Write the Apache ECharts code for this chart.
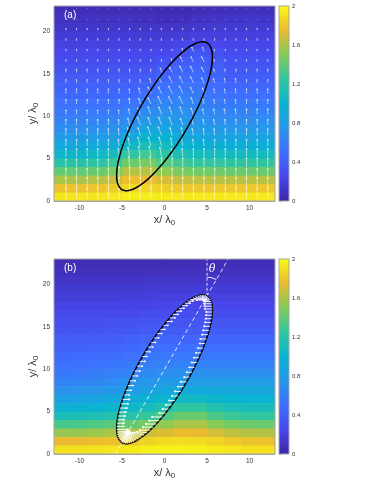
<!DOCTYPE html>
<html>
<head>
<meta charset="utf-8">
<script src="https://cdn.jsdelivr.net/npm/echarts@6/dist/echarts.min.js"></script>
<style>
  html, body { margin: 0; padding: 0; background: #fff; }
  #chart { width: 374px; height: 484px; }
</style>
</head>
<body>
<div id="chart"></div>
<script>
// ---- data (units of lambda0) ----
const xTicks = [-10, -5, 0, 5, 10];
const yTicks = [0, 5, 10, 15, 20];
const colorTicks = [0, 0.4, 0.8, 1.2, 1.6, 2];
const colorRange = [0, 2];

// heat map cell centres, rows listed top to bottom
const cellX = [-12, -10, -8, -6, -4, -2, 0, 2, 4, 6, 8, 10, 12];
const cellY = [22.5, 21.5, 20.5, 19.5, 18.5, 17.5, 16.5, 15.5, 14.5, 13.5, 12.5, 11.5,
               10.5, 9.5, 8.5, 7.5, 6.5, 5.5, 4.5, 3.5, 2.5, 1.5, 0.5];

const fieldA = [
  [.06, .06, .06, .06, .06, .05, .04, .04, .05, .07, .08, .08, .08],
  [.09, .09, .09, .09, .09, .08, .07, .07, .09, .11, .12, .12, .12],
  [.13, .13, .13, .13, .13, .12, .11, .12, .14, .15, .16, .16, .16],
  [.17, .17, .17, .17, .17, .16, .16, .18, .20, .20, .20, .20, .20],
  [.21, .21, .21, .21, .21, .21, .21, .24, .27, .25, .24, .24, .24],
  [.25, .25, .25, .25, .25, .25, .26, .31, .35, .31, .28, .28, .28],
  [.29, .29, .29, .29, .29, .29, .32, .38, .40, .36, .32, .32, .32],
  [.33, .33, .33, .33, .33, .34, .39, .44, .45, .40, .36, .36, .36],
  [.37, .37, .37, .37, .37, .39, .45, .49, .49, .44, .40, .40, .40],
  [.41, .41, .41, .41, .42, .45, .51, .54, .53, .48, .45, .45, .45],
  [.46, .46, .46, .46, .47, .52, .57, .59, .57, .53, .50, .50, .50],
  [.51, .51, .51, .51, .53, .59, .64, .65, .62, .58, .56, .56, .56],
  [.56, .56, .57, .57, .60, .67, .71, .71, .67, .64, .62, .62, .62],
  [.62, .62, .63, .64, .68, .76, .79, .77, .73, .70, .69, .69, .69],
  [.70, .70, .71, .72, .78, .87, .88, .84, .80, .78, .77, .77, .77],
  [.79, .79, .80, .82, .91, 1.00, .98, .92, .88, .87, .86, .86, .86],
  [.90, .90, .91, .95, 1.07, 1.14, 1.09, 1.02, .98, .97, .96, .96, .96],
  [1.03, 1.03, 1.05, 1.10, 1.25, 1.30, 1.21, 1.14, 1.10, 1.09, 1.08, 1.08, 1.08],
  [1.20, 1.20, 1.22, 1.28, 1.44, 1.47, 1.36, 1.30, 1.26, 1.25, 1.24, 1.24, 1.24],
  [1.40, 1.40, 1.42, 1.48, 1.62, 1.63, 1.53, 1.48, 1.45, 1.44, 1.43, 1.43, 1.43],
  [1.60, 1.60, 1.62, 1.67, 1.77, 1.76, 1.70, 1.66, 1.64, 1.63, 1.63, 1.63, 1.63],
  [1.78, 1.78, 1.79, 1.82, 1.87, 1.86, 1.83, 1.81, 1.80, 1.80, 1.80, 1.80, 1.80],
  [1.92, 1.92, 1.92, 1.93, 1.95, 1.95, 1.94, 1.93, 1.93, 1.93, 1.93, 1.93, 1.93]
];

const fieldB = [
  [.05, .05, .05, .05, .05, .05, .05, .05, .06, .06, .06, .06, .06],
  [.08, .08, .08, .08, .08, .08, .08, .09, .09, .09, .09, .09, .09],
  [.11, .11, .11, .11, .11, .12, .12, .12, .13, .13, .13, .13, .13],
  [.15, .15, .15, .15, .15, .16, .16, .16, .17, .17, .17, .17, .17],
  [.18, .18, .18, .18, .19, .19, .20, .20, .21, .21, .21, .21, .21],
  [.22, .22, .22, .22, .23, .23, .24, .25, .25, .25, .25, .25, .25],
  [.26, .26, .26, .26, .27, .28, .29, .29, .29, .29, .29, .29, .29],
  [.30, .30, .30, .31, .32, .33, .34, .34, .34, .34, .34, .34, .34],
  [.34, .34, .34, .35, .36, .38, .39, .39, .39, .39, .39, .39, .39],
  [.38, .38, .38, .39, .41, .43, .44, .44, .44, .44, .44, .44, .44],
  [.42, .42, .43, .44, .46, .48, .50, .50, .50, .50, .50, .50, .50],
  [.46, .47, .48, .49, .51, .54, .56, .56, .56, .56, .56, .56, .56],
  [.51, .52, .53, .55, .57, .60, .62, .63, .63, .63, .63, .63, .63],
  [.56, .57, .59, .61, .64, .67, .69, .71, .71, .71, .71, .71, .71],
  [.63, .64, .66, .69, .72, .75, .78, .80, .80, .80, .80, .80, .80],
  [.72, .73, .75, .78, .81, .85, .88, .91, .91, .90, .89, .89, .89],
  [.83, .84, .86, .89, .92, .96, 1.01, 1.06, 1.06, 1.02, 1.00, .99, .99],
  [.96, .97, .99, 1.02, 1.05, 1.10, 1.17, 1.24, 1.24, 1.16, 1.12, 1.10, 1.10],
  [1.12, 1.13, 1.15, 1.18, 1.21, 1.27, 1.35, 1.42, 1.42, 1.33, 1.28, 1.25, 1.25],
  [1.32, 1.33, 1.35, 1.38, 1.41, 1.47, 1.54, 1.60, 1.60, 1.52, 1.46, 1.43, 1.43],
  [1.55, 1.55, 1.57, 1.60, 1.63, 1.68, 1.72, 1.76, 1.75, 1.70, 1.65, 1.62, 1.62],
  [1.75, 1.75, 1.76, 1.78, 1.81, 1.85, 1.88, 1.89, 1.88, 1.85, 1.81, 1.78, 1.78],
  [1.90, 1.90, 1.91, 1.92, 1.94, 1.96, 1.97, 1.97, 1.96, 1.94, 1.92, 1.90, 1.90]
];

// quiver grid of panel (a); rows top to bottom
const quiverX = [-11.6, -10.35, -9.1, -7.85, -6.6, -5.35, -4.1, -2.85, -1.6, -0.35,
                 0.9, 2.15, 3.4, 4.65, 5.9, 7.15, 8.4, 9.65, 10.9, 12.15];
const quiverY = [22.6, 21.36, 20.12, 18.88, 17.64, 16.4, 15.16, 13.92, 12.68, 11.44,
                 10.2, 8.96, 7.72, 6.48, 5.24, 4.0, 2.76, 1.52, 0.28];
// arrow length, one digit per arrow (x 0.14 lambda0)
const quiverLen = [
  '11111111111111111111',
  '11111111111111111111',
  '22222222222222222222',
  '22222222222222222222',
  '22222222222344222222',
  '22222222223555222222',
  '33333333345665333333',
  '33333333456665444333',
  '44444445667765444444',
  '44444455677765444444',
  '44444456777765555555',
  '55555567777665555555',
  '66666677887766666666',
  '66666678887766666666',
  '77777789987777777777',
  '77777899988888888888',
  '88888999888888888888',
  '99999999999999999999',
  '99999999999999999999'
];
// tilt to the left of vertical, one digit per arrow (x 5 degrees)
const quiverTilt = [
  '00000000000000000000',
  '00000000111100000000',
  '00000000111100000000',
  '00000000112210000000',
  '00000000011244200000',
  '00000000113555310000',
  '00000000135555310000',
  '00000001355555321000',
  '00000013555553221000',
  '00000013555543221000',
  '00000124444443221000',
  '00000134444432210000',
  '00000133443221100000',
  '00000123332211000000',
  '00000122221100000000',
  '00000111100000000000',
  '00000000000000000000',
  '00000000000000000000',
  '00000000000000000000'
];

// ellipse (both panels)
const ellipseCenter = [0, 10];
const ellipseAxes = [10, 3];       // semi-major, semi-minor
const ellipseTiltDeg = 30;         // major axis angle from vertical
// panel (b): rim arrows
const rimCount = 96;
const rimLen = [1.0, 0.8, 0.7, 0.8, 1.3, 2.0, 1.4, 0.9, 0.7, 0.6, 0.7, 0.9]; // per 30deg sector, from top tip clockwise
const rimFocus = [-8.4, 9.3];      // where the rim arrows converge, along the major axis
const arcRadius = 2.2;
const thetaLabelAt = [5.6, 21.85];

const parula = ['#3e26a8', '#4747eb', '#3e6fff', '#2796eb', '#08b4d0',
                '#31c69f', '#81cc59', '#eaba30', '#f9fb15'];

const FONT = '"Liberation Sans", Arial, Helvetica, sans-serif';
const AXIS_GRAY = '#a6a6a6';
const TEXT = '#333';

// ---- helpers ----
const th = ellipseTiltDeg * Math.PI / 180;
const e1 = [Math.sin(th), Math.cos(th)];
const e2 = [Math.cos(th), -Math.sin(th)];

function ellipsePoint(phi) {
  const u = ellipseAxes[0] * Math.cos(phi), v = ellipseAxes[1] * Math.sin(phi);
  return [ellipseCenter[0] + u * e1[0] + v * e2[0], ellipseCenter[1] + u * e1[1] + v * e2[1]];
}

const ellipseData = [];
for (let i = 0; i <= 180; i++) ellipseData.push(ellipsePoint(i / 180 * 2 * Math.PI));

function heatData(field) {
  const out = [];
  field.forEach((row, i) => row.forEach((v, j) => out.push([cellX[j], cellY[i], v])));
  return out;
}

const quiverData = [];
quiverY.forEach((y, i) => quiverX.forEach((x, j) => {
  quiverData.push([x, y, +quiverLen[i][j] * 0.14, +quiverTilt[i][j] * 5]);
}));

const rimData = [];
for (let k = 0; k < rimCount; k++) {
  const phi = k / rimCount * 2 * Math.PI;
  const p = ellipsePoint(phi);
  let t = (p[1] - ellipseCenter[1]) / e1[1];
  t = Math.max(rimFocus[0], Math.min(rimFocus[1], t));
  const target = [ellipseCenter[0] + t * e1[0], ellipseCenter[1] + t * e1[1]];
  const dx = target[0] - p[0], dy = target[1] - p[1];
  const d = Math.hypot(dx, dy) || 1;
  const L = Math.min(d, rimLen[Math.floor(phi / (2 * Math.PI) * rimLen.length) % rimLen.length]);
  rimData.push([p[0], p[1], p[0] + dx / d * L, p[1] + dy / d * L]);
}

const axisLineData = [0, 23].map(y => [ellipseCenter[0] + (y - ellipseCenter[1]) * Math.tan(th), y]);
const tipTop = ellipsePoint(0);
const verticalData = [tipTop, [tipTop[0], 23]];

function arrowShape(tail, tip, color, headMax, width) {
  const dx = tip[0] - tail[0], dy = tip[1] - tail[1];
  const L = Math.hypot(dx, dy);
  if (L < 1.6) {
    return { type: 'circle', shape: { cx: tail[0], cy: tail[1] - L / 2, r: 0.45 }, style: { fill: color } };
  }
  const bx = -dx / L, by = -dy / L;
  const h = Math.min(headMax, Math.max(0.6, L * 0.28));
  const ca = Math.cos(0.4), sa = Math.sin(0.4);
  const l = [tip[0] + h * (bx * ca - by * sa), tip[1] + h * (bx * sa + by * ca)];
  const r = [tip[0] + h * (bx * ca + by * sa), tip[1] + h * (-bx * sa + by * ca)];
  return {
    type: 'group',
    children: [
      { type: 'line', shape: { x1: tail[0], y1: tail[1], x2: tip[0], y2: tip[1] },
        style: { stroke: color, lineWidth: width } },
      { type: 'polyline', shape: { points: [l, tip, r] },
        style: { stroke: color, lineWidth: width, fill: null } }
    ]
  };
}

const cellW = cellX[1] - cellX[0];
const cellH = cellY[0] - cellY[1];

function renderCell(params, api) {
  const x = api.value(0), y = api.value(1);
  const p0 = api.coord([x - cellW / 2, y + cellH / 2]);
  const p1 = api.coord([x + cellW / 2, y - cellH / 2]);
  return {
    type: 'rect',
    shape: { x: p0[0], y: p0[1], width: p1[0] - p0[0] + 0.6, height: p1[1] - p0[1] + 0.6 },
    style: { fill: api.visual('color') }
  };
}

function renderQuiver(params, api) {
  const x = api.value(0), y = api.value(1), len = api.value(2);
  const a = api.value(3) * Math.PI / 180;
  const tail = api.coord([x, y]);
  const tip = api.coord([x - len * Math.sin(a), y + len * Math.cos(a)]);
  return arrowShape(tail, tip, 'rgba(255,255,255,0.62)', 1.6, 0.9);
}

function renderRim(params, api) {
  const tail = api.coord([api.value(0), api.value(1)]);
  const tip = api.coord([api.value(2), api.value(3)]);
  return arrowShape(tail, tip, 'rgba(255,255,255,0.92)', 2, 1);
}

function renderTheta(params, api) {
  const c = api.coord([api.value(0), api.value(1)]);
  const r = api.coord([api.value(0) + arcRadius, api.value(1)])[0] - c[0];
  const lbl = api.coord(thetaLabelAt);
  return {
    type: 'group',
    children: [
      { type: 'arc', shape: { cx: c[0], cy: c[1], r: r, startAngle: -Math.PI / 2,
          endAngle: -Math.PI / 2 + th, clockwise: true },
        style: { stroke: 'rgba(255,255,255,0.9)', lineWidth: 1, fill: null } },
      { type: 'text', x: lbl[0], y: lbl[1],
        style: { text: 'θ', fill: '#fff', font: 'italic 11px "DejaVu Serif", serif',
                 align: 'center', verticalAlign: 'middle' } }
    ]
  };
}

function renderColorbar(params, api) {
  const p0 = api.coord([0, colorRange[1]]);
  const p1 = api.coord([1, colorRange[0]]);
  const stops = parula.map((c, i) => ({ offset: i / (parula.length - 1), color: c }));
  return {
    type: 'rect',
    shape: { x: p0[0], y: p0[1], width: p1[0] - p0[0], height: p1[1] - p0[1] },
    style: { fill: new echarts.graphic.LinearGradient(0, 1, 0, 0, stops) }
  };
}

const nameRich = {
  m: { fontSize: 11, fontFamily: FONT, color: TEXT },
  s: { fontSize: 8, fontFamily: FONT, color: TEXT, padding: [7, 0, 0, 0] }
};

function mainX(gridIndex) {
  return {
    gridIndex, type: 'value', min: -13, max: 13,
    axisLine: { show: true, lineStyle: { color: AXIS_GRAY } },
    axisTick: { show: true, inside: true, length: 2, customValues: xTicks, lineStyle: { color: AXIS_GRAY } },
    axisLabel: { customValues: xTicks, fontSize: 6.5, color: TEXT, margin: 4, fontFamily: FONT },
    splitLine: { show: false },
    name: '{m|x/ λ}{s|0}', nameLocation: 'middle', nameGap: 11, nameMoveOverlap: false,
    nameTextStyle: { rich: nameRich }
  };
}
function mainY(gridIndex) {
  return {
    gridIndex, type: 'value', min: 0, max: 23,
    axisLine: { show: true, lineStyle: { color: AXIS_GRAY } },
    axisTick: { show: true, inside: true, length: 2, customValues: yTicks, lineStyle: { color: AXIS_GRAY } },
    axisLabel: { customValues: yTicks, fontSize: 6.5, color: TEXT, margin: 4, fontFamily: FONT },
    splitLine: { show: false },
    name: '{m|y/ λ}{s|0}', nameLocation: 'middle', nameGap: 14, nameMoveOverlap: false,
    nameTextStyle: { rich: nameRich, padding: [0, 20, 0, 0] }
  };
}
function barX(gridIndex) {
  return { gridIndex, type: 'value', min: 0, max: 1, show: false };
}
function barY(gridIndex) {
  return {
    gridIndex, type: 'value', min: colorRange[0], max: colorRange[1], position: 'right',
    axisLine: { show: true, lineStyle: { color: AXIS_GRAY } },
    axisTick: { show: true, length: 2, customValues: colorTicks, lineStyle: { color: AXIS_GRAY } },
    axisLabel: { customValues: colorTicks, fontSize: 6, color: TEXT, margin: 3, fontFamily: FONT },
    splitLine: { show: false }
  };
}

const gridStyle = { show: true, z: 10, borderColor: AXIS_GRAY, borderWidth: 1, backgroundColor: 'transparent' };

const option = {
  animation: false,
  backgroundColor: '#fff',
  grid: [
    Object.assign({ left: 54, top: 6, width: 221, height: 195 }, gridStyle),
    Object.assign({ left: 279, top: 6, width: 10, height: 195 }, gridStyle),
    Object.assign({ left: 54, top: 259, width: 221, height: 195 }, gridStyle),
    Object.assign({ left: 279, top: 259, width: 10, height: 195 }, gridStyle)
  ],
  xAxis: [mainX(0), barX(1), mainX(2), barX(3)],
  yAxis: [mainY(0), barY(1), mainY(2), barY(3)],
  visualMap: {
    type: 'continuous', show: false, min: colorRange[0], max: colorRange[1],
    dimension: 2, seriesIndex: [0, 4], inRange: { color: parula }
  },
  graphic: [
    { type: 'text', left: 64, top: 10, z: 20,
      style: { text: '(a)', fill: '#fff', font: '10px ' + FONT } },
    { type: 'text', left: 64, top: 263, z: 20,
      style: { text: '(b)', fill: '#fff', font: '10px ' + FONT } }
  ],
  series: [
    { type: 'custom', xAxisIndex: 0, yAxisIndex: 0, data: heatData(fieldA),
      renderItem: renderCell, encode: { x: 0, y: 1 }, clip: true, silent: true, z: 1 },
    { type: 'custom', xAxisIndex: 0, yAxisIndex: 0, data: quiverData,
      renderItem: renderQuiver, encode: { x: 0, y: 1 }, clip: true, silent: true, z: 3 },
    { type: 'line', xAxisIndex: 0, yAxisIndex: 0, data: ellipseData, showSymbol: false,
      lineStyle: { color: '#000', width: 1.5 }, silent: true, z: 4 },
    { type: 'custom', xAxisIndex: 1, yAxisIndex: 1, data: [[0, 0]],
      renderItem: renderColorbar, encode: { x: 0, y: 1 }, silent: true },

    { type: 'custom', xAxisIndex: 2, yAxisIndex: 2, data: heatData(fieldB),
      renderItem: renderCell, encode: { x: 0, y: 1 }, clip: true, silent: true, z: 1 },
    { type: 'line', xAxisIndex: 2, yAxisIndex: 2, data: axisLineData, showSymbol: false,
      lineStyle: { color: 'rgba(255,255,255,0.85)', width: 1, type: [4, 3] }, silent: true, z: 3 },
    { type: 'line', xAxisIndex: 2, yAxisIndex: 2, data: verticalData, showSymbol: false,
      lineStyle: { color: 'rgba(255,255,255,0.85)', width: 1, type: [3, 2] }, silent: true, z: 3 },
    { type: 'line', xAxisIndex: 2, yAxisIndex: 2, data: ellipseData, showSymbol: false,
      lineStyle: { color: '#000', width: 1.5 }, silent: true, z: 4 },
    { type: 'custom', xAxisIndex: 2, yAxisIndex: 2, data: rimData,
      renderItem: renderRim, encode: { x: 0, y: 1 }, clip: true, silent: true, z: 5 },
    { type: 'custom', xAxisIndex: 2, yAxisIndex: 2, data: [tipTop],
      renderItem: renderTheta, encode: { x: 0, y: 1 }, silent: true, z: 5 },
    { type: 'custom', xAxisIndex: 3, yAxisIndex: 3, data: [[0, 0]],
      renderItem: renderColorbar, encode: { x: 0, y: 1 }, silent: true }
  ]
};

const chart = echarts.init(document.getElementById('chart'), null, { renderer: 'canvas' });
chart.setOption(option);
</script>
</body>
</html>
